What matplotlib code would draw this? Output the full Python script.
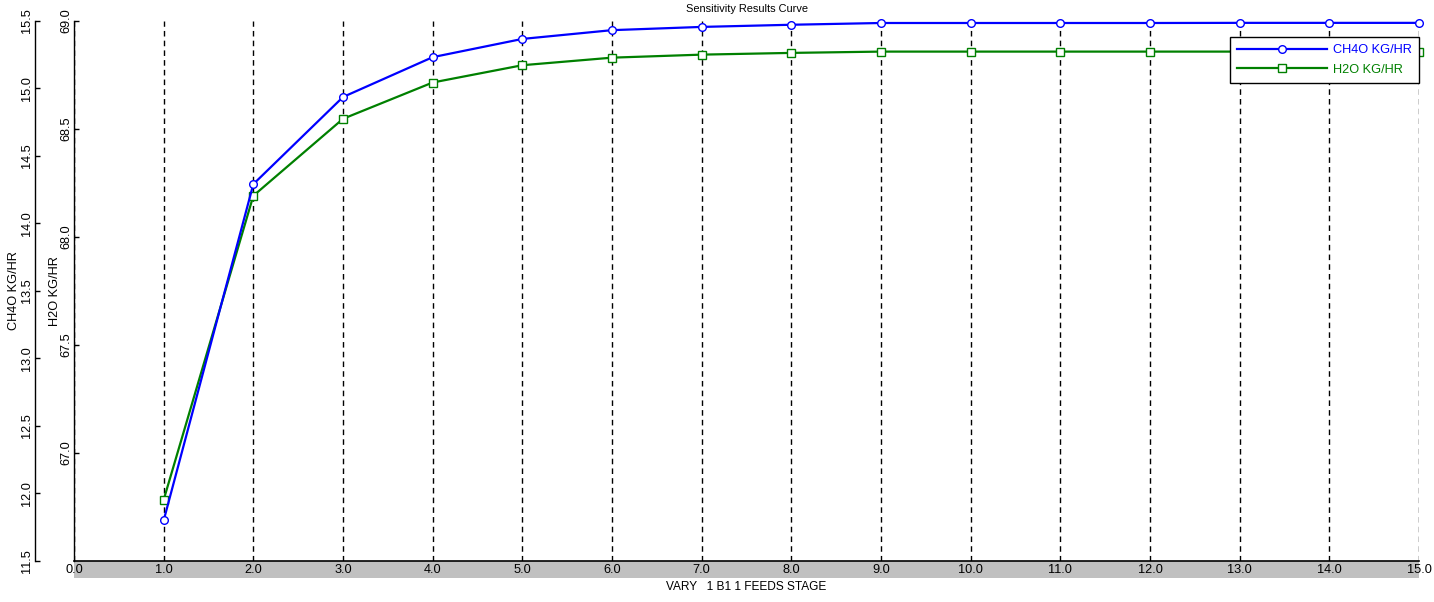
import numpy as np
import matplotlib
matplotlib.use('Agg')
from matplotlib import pyplot as plt
from matplotlib.patches import Rectangle

## data
stages = [1, 2, 3, 4, 5, 6, 7, 8, 9, 10, 11, 12, 13, 14, 15]
ch4o_kghr = [11.80, 14.29, 14.935, 15.23, 15.365, 15.43, 15.454, 15.47,
             15.483, 15.483, 15.483, 15.483, 15.484, 15.484, 15.484]
h2o_kghr = [66.783, 68.19, 68.546, 68.714, 68.794, 68.829, 68.843, 68.851,
            68.857, 68.857, 68.857, 68.857, 68.857, 68.857, 68.857]

ch4o_ticks = [11.5, 12.0, 12.5, 13.0, 13.5, 14.0, 14.5, 15.0, 15.5]
h2o_ticks = [67.0, 67.5, 68.0, 68.5, 69.0]
x_ticks = list(range(0, 16))

plt.rcParams['font.family'] = ['Liberation Sans', 'DejaVu Sans']
plt.rcParams['font.size'] = 9.2

W, H = 1434, 602
fig = plt.figure(figsize=(W/100.0, H/100.0), dpi=100)
fig.patch.set_facecolor('white')

# axes box in pixels
left, right, top, bottom = 74, 1419, 20.7, 561
ax = fig.add_axes([left/W, 1-bottom/H, (right-left)/W, (bottom-top)/H])

# grey strip under the x axis
fig.patches.append(Rectangle((left/W, 1-578.0/H), (right-left)/W, 17.0/H,
                             transform=fig.transFigure, facecolor='#c0c0c0',
                             edgecolor='none', zorder=-1))

ax.set_xlim(0, 15)
ax.set_ylim(66.5, 69.0)
ax.set_xticks(x_ticks)
ax.set_xticklabels(["%.1f" % t for t in x_ticks])
ax.set_yticks(h2o_ticks)
ax.set_yticklabels(["%.1f" % t for t in h2o_ticks])
ax.grid(axis='x', color='black', linestyle=(0, (4, 3)), lw=1)
ax.grid(axis='y', visible=False)
for s in ['top', 'right']:
    ax.spines[s].set_visible(False)
ax.spines['left'].set_linewidth(1)
ax.spines['bottom'].set_linewidth(1.2)
ax.tick_params(axis='x', length=0, pad=2.5)
ax.tick_params(axis='y', direction='in', length=3.6, width=1, pad=1.5,
               labelrotation=90)
plt.setp(ax.get_yticklabels(), va='center')

ax.plot(stages, h2o_kghr, color='#008000', lw=1.6, marker='s', ms=6,
        mfc='white', mec='#008000', mew=1, clip_on=False, zorder=3,
        label='H2O KG/HR')

ax2 = ax.twinx()
ax2.set_ylim(11.5, 15.5)
ax2.set_yticks(ch4o_ticks)
ax2.set_yticklabels(["%.1f" % t for t in ch4o_ticks])
ax2.yaxis.set_ticks_position('left')
ax2.yaxis.set_label_position('left')
for s in ['top', 'right', 'bottom']:
    ax2.spines[s].set_visible(False)
ax2.spines['left'].set_visible(True)
ax2.spines['left'].set_position(('outward', 39*0.72))
ax2.spines['left'].set_linewidth(1)
ax2.tick_params(axis='y', direction='in', length=3.6, width=1, pad=1.5,
                labelrotation=90)
plt.setp(ax2.get_yticklabels(), va='center')

ax2.plot(stages, ch4o_kghr, color='#0000ff', lw=1.6, marker='o', ms=5.5,
         mfc='white', mec='#0000ff', mew=1, clip_on=False, zorder=3,
         label='CH4O KG/HR')

# axis titles
ax2.set_ylabel('CH4O KG/HR')
ax2.yaxis.set_label_coords((14-left)/float(right-left), 0.5)
ax2.yaxis.label.set(rotation_mode='default', ha='center', va='center')
ax.set_ylabel('H2O KG/HR')
ax.yaxis.set_label_coords((55-left)/float(right-left), 0.5)
ax.yaxis.label.set(rotation_mode='default', ha='center', va='center')

ax.set_xlabel('VARY   1 B1 1 FEEDS STAGE', labelpad=3.5, fontsize=8.6)
ax.set_title('Sensitivity Results Curve', pad=6, fontsize=7.9)

h1, l1 = ax2.get_legend_handles_labels()
h2, l2 = ax.get_legend_handles_labels()
leg = ax2.legend(h1+h2, l1+l2, loc='upper right',
                 bbox_to_anchor=(right/W, 1-37.0/H),
                 bbox_transform=fig.transFigure, fontsize=9.2,
                 frameon=True, fancybox=False, shadow=False, framealpha=1,
                 borderaxespad=0, borderpad=0.55, handlelength=7.1,
                 handletextpad=0.45, labelspacing=0.6)
leg.get_frame().set_edgecolor('black')
leg.get_frame().set_linewidth(1)
for txt, c in zip(leg.get_texts(), ['#0000ff', '#008000']):
    txt.set_color(c)

fig.savefig('out.png', dpi=100)
